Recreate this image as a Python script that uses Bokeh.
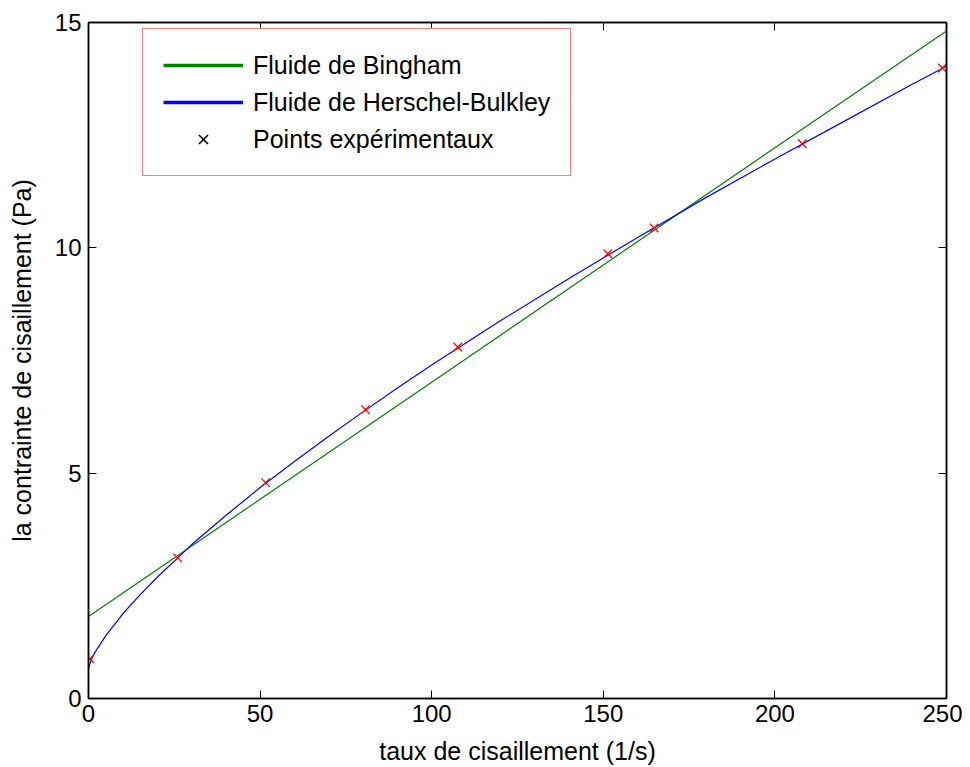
from bokeh.plotting import figure
from bokeh.models import (Range1d, FixedTicker, LinearAxis, Legend, LegendItem,
                          CustomJSTickFormatter)
from bokeh.embed import file_html
from bokeh.resources import INLINE

# ---- data ----
x_ticks = [0, 50, 100, 150, 200, 250]
y_ticks = [0, 5, 10, 15]

bingham_x = [0, 50, 100, 150, 200, 250]
bingham_y = [1.82, 4.42, 7.02, 9.62, 12.22, 14.81]

hb_x = [0, 1, 2, 5, 10, 15, 20, 30, 40, 50, 60, 70, 80, 90, 100, 120, 140,
        160, 180, 200, 220, 240, 250]
hb_y = [0.68, 0.89, 1.04, 1.39, 1.88, 2.30, 2.69, 3.41, 4.06, 4.68, 5.26,
        5.82, 6.36, 6.89, 7.40, 8.38, 9.32, 10.23, 11.12, 11.97, 12.80,
        13.63, 14.03]

exp_x = [0.4, 26.0, 51.6, 80.7, 107.6, 151.3, 164.8, 208.0, 248.8]
exp_y = [0.88, 3.12, 4.79, 6.41, 7.80, 9.87, 10.44, 12.31, 13.99]

labels = ["Fluide de Bingham", "Fluide de Herschel-Bulkley",
          "Points expérimentaux"]
x_label = "taux de cisaillement (1/s)"
y_label = "la contrainte de cisaillement (Pa)"

FONT = "Liberation Sans"

p = figure(width=962, height=767, output_backend="svg", toolbar_location=None,
           x_range=Range1d(0, 250), y_range=Range1d(0, 15),
           min_border_left=88, min_border_top=22, min_border_right=16,
           min_border_bottom=69)
p.background_fill_color = "white"
p.border_fill_color = "white"
p.outline_line_color = "black"
p.outline_line_width = 1.5
p.xgrid.grid_line_color = None
p.ygrid.grid_line_color = None

def style_axis(ax, ticks, show_labels=True):
    ax.ticker = FixedTicker(ticks=ticks)
    ax.major_tick_in = 8
    ax.major_tick_out = 0
    ax.major_tick_line_color = "black"
    ax.major_tick_line_width = 1
    ax.minor_tick_line_color = None
    ax.axis_line_color = "black"
    ax.axis_line_width = 1.5
    ax.major_label_text_font = FONT
    ax.major_label_text_color = "black"
    ax.major_label_text_font_size = "24px"
    if not show_labels:
        ax.formatter = CustomJSTickFormatter(code="return '';")
        ax.major_label_standoff = 0

style_axis(p.xaxis[0], x_ticks)
style_axis(p.yaxis[0], y_ticks)
p.xaxis[0].major_label_standoff = 6
p.yaxis[0].major_label_standoff = 7
for ax, lab, sd in ((p.xaxis[0], x_label, 12), (p.yaxis[0], y_label, 16)):
    ax.axis_label = lab
    ax.axis_label_text_font = FONT
    ax.axis_label_text_font_size = "25px"
    ax.axis_label_text_font_style = "normal"
    ax.axis_label_text_color = "black"
    ax.axis_label_standoff = sd

top_ax = LinearAxis()
style_axis(top_ax, x_ticks, show_labels=False)
p.add_layout(top_ax, "above")
right_ax = LinearAxis()
style_axis(right_ax, y_ticks, show_labels=False)
p.add_layout(right_ax, "right")

# ---- curves and points ----
p.line(bingham_x, bingham_y, line_color="#008000", line_width=1.2)
p.line(hb_x, hb_y, line_color="#0000ff", line_width=1.2)
p.scatter(exp_x, exp_y, marker="x", size=12, line_color="#ff0000",
          line_width=1.3)

# ---- legend glyphs: hidden copies of the series with legend styling ----
lg1 = p.line(bingham_x, bingham_y, line_color="#008000", line_width=3.5,
             visible=False)
lg2 = p.line(hb_x, hb_y, line_color="#0000ff", line_width=3.5, visible=False)
lg3 = p.scatter(exp_x, exp_y, marker="x", size=14, line_color="black",
                line_width=1.6, visible=False)

legend = Legend(items=[LegendItem(label=labels[0], renderers=[lg1]),
                       LegendItem(label=labels[1], renderers=[lg2]),
                       LegendItem(label=labels[2], renderers=[lg3])],
                location=(54, 522))
legend.label_text_font = FONT
legend.label_text_font_size = "25px"
legend.label_text_color = "black"
legend.label_height = 28
legend.glyph_height = 32
legend.glyph_width = 80
legend.label_standoff = 10
legend.spacing = 5
legend.padding = 20
legend.margin = 0
legend.border_line_color = "#ff0000"
legend.border_line_width = 1
legend.background_fill_color = "white"
legend.background_fill_alpha = 1
p.add_layout(legend, "center")

open("out.html", "w").write(file_html(p, INLINE))
